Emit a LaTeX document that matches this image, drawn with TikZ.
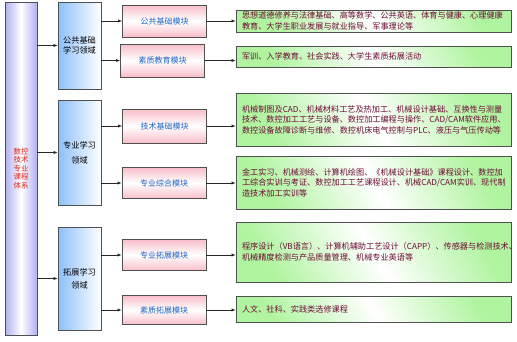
\documentclass[tikz,border=0pt]{standalone}
\usepackage{fontspec}
\setmainfont{Noto Sans CJK SC}
\usetikzlibrary{arrows.meta}
\definecolor{barblue}{RGB}{176,176,240}
\definecolor{midblue}{RGB}{140,192,248}
\definecolor{pinkc}{RGB}{248,190,200}
\definecolor{greenc}{RGB}{176,244,160}
\definecolor{bordc}{RGB}{80,80,80}
\definecolor{redtxt}{RGB}{224,40,30}
\definecolor{bluetxt}{RGB}{30,100,200}
\definecolor{maroontxt}{RGB}{110,10,55}
\tikzset{
  barbox/.style={draw=bordc, line width=0.8pt, left color=barblue, right color=barblue, middle color=white, minimum width=32pt, inner sep=0pt, text=redtxt, font=\fontsize{7.5}{8.6}\selectfont, align=center},
  areabox/.style={draw=bordc, line width=0.8pt, left color=midblue, right color=white, minimum width=43pt, inner sep=0pt, align=center, font=\fontsize{8.2}{10}\selectfont},
  modbox/.style={draw=bordc, line width=0.8pt, top color=pinkc, bottom color=pinkc, middle color=white, minimum width=84pt, inner sep=0pt, text=bluetxt, font=\fontsize{8}{10}\selectfont},
  coursebox/.style={draw=bordc, line width=0.8pt, left color=greenc, right color=greenc, middle color=white, shading angle=120, minimum width=275pt, text width=263pt, inner xsep=6pt, inner ysep=0pt, align=left, text=maroontxt, font=\fontsize{8.15}{10.5}\selectfont},
  arr/.style={draw=black!85, line width=0.6pt, -{Latex[length=4pt,width=3.2pt]}}
}
\begin{document}
\begin{tikzpicture}[x=1pt,y=-1pt]
\useasboundingbox (0,0) rectangle (517,341);
% system bar
\node[barbox, minimum height=333pt] (bar) at (21,168.5) {数控\\技术\\专业\\课程\\体系};
% learning areas
\node[areabox, minimum height=87pt] (m1) at (79.5,45.5) {公共基础\\学习领域};
\node[areabox, minimum height=105pt, font=\fontsize{8.2}{15}\selectfont] (m2) at (79.5,152.5) {专业学习\\领域};
\node[areabox, minimum height=103pt, font=\fontsize{8.2}{13}\selectfont] (m3) at (79.5,278.5) {拓展学习\\领域};
% modules
\node[modbox, minimum height=32pt] (p1) at (164.5,21) {公共基础模块};
\node[modbox, minimum height=33pt] (p2) at (162.5,60.5) {素质教育模块};
\node[modbox, minimum height=34pt] (p3) at (164.5,126) {技术基础模块};
\node[modbox, minimum height=31pt] (p4) at (164,183) {专业综合模块};
\node[modbox, minimum height=31pt] (p5) at (164,255) {专业拓展模块};
\node[modbox, minimum height=29pt] (p6) at (164,310) {素质拓展模块};
% courses
\node[coursebox, minimum height=22pt] (g1) at (373.5,21) {思想道德修养与法律基础、高等数学、公共英语、体育与健康、心理健康\\教育、大学生职业发展与就业指导、军事理论等};
\node[coursebox, minimum height=21pt] (g2) at (373.5,56.5) {军训、入学教育、社会实践、大学生素质拓展活动};
\node[coursebox, minimum height=53pt] (g3) at (373.5,119.5) {机械制图及CAD、机械材料工艺及热加工、机械设计基础、互换性与测量\\技术、数控加工工艺与设备、数控加工编程与操作、CAD/CAM软件应用、\\数控设备故障诊断与维修、数控机床电气控制与PLC、液压与气压传动等};
\node[coursebox, minimum height=53pt] (g4) at (373.5,182.5) {金工实习、机械测绘、计算机绘图、《机械设计基础》课程设计、数控加\\工综合实训与考证、数控加工工艺课程设计、机械CAD/CAM实训、现代制\\造技术加工实训等};
\node[coursebox, minimum height=60pt] (g5) at (373.5,252) {程序设计（VB语言）、计算机辅助工艺设计（CAPP）、传感器与检测技术、\\机械精度检测与产品质量管理、机械专业英语等};
\node[coursebox, minimum height=26pt] (g6) at (373.5,309) {人文、社科、实践类选修课程};
% connectors
\foreach \m in {m1,m2,m3} \draw[arr] (bar.east |- \m.west) -- (\m.west);
\foreach \m/\p in {m1/p1,m1/p2,m2/p3,m2/p4,m3/p5,m3/p6} \draw[arr] (\m.east |- \p.west) -- (\p.west);
\foreach \p/\g in {p1/g1,p2/g2,p3/g3,p4/g4,p5/g5,p6/g6} \draw[arr] (\p.east) -- (\p.east -| \g.west);
\end{tikzpicture}
\end{document}
